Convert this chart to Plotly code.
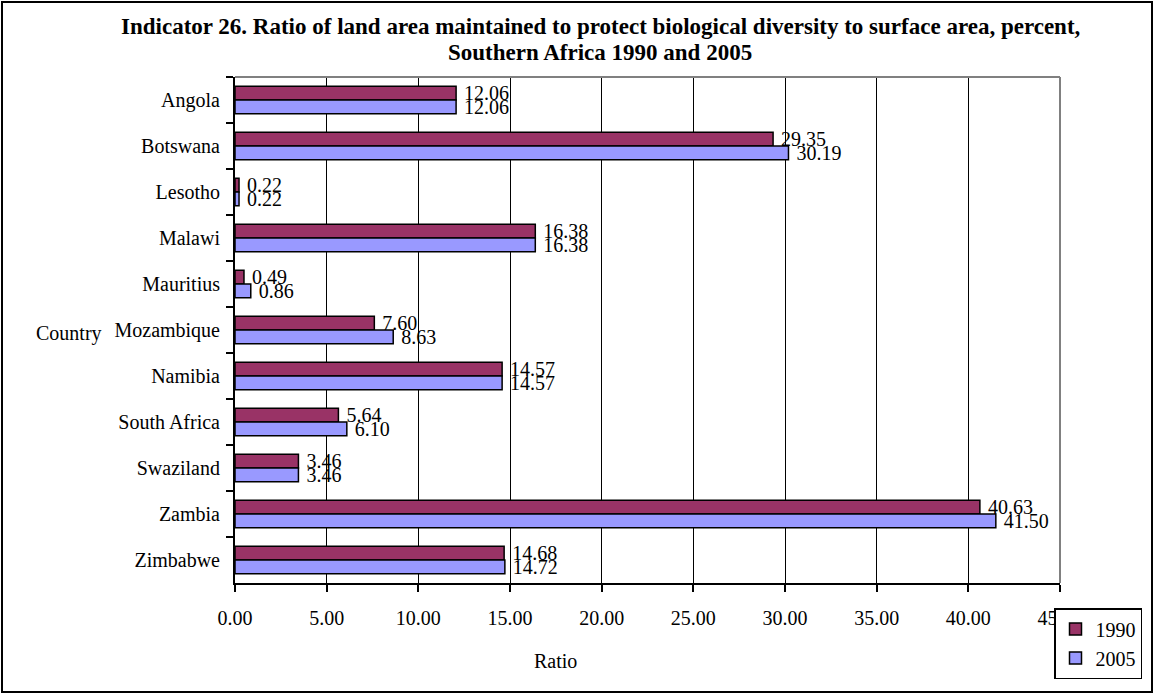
import plotly.graph_objects as go

countries = ["Angola", "Botswana", "Lesotho", "Malawi", "Mauritius", "Mozambique",
             "Namibia", "South Africa", "Swaziland", "Zambia", "Zimbabwe"]
values_1990 = [12.06, 29.35, 0.22, 16.38, 0.49, 7.60, 14.57, 5.64, 3.46, 40.63, 14.68]
values_2005 = [12.06, 30.19, 0.22, 16.38, 0.86, 8.63, 14.57, 6.10, 3.46, 41.50, 14.72]
x_ticks = [0, 5, 10, 15, 20, 25, 30, 35, 40, 45]
title_lines = [
    "Indicator 26. Ratio of land area maintained to protect biological diversity to surface area, percent,",
    "Southern Africa 1990 and 2005",
]

FONT = "Liberation Serif, Times New Roman, serif"
W, H = 1155, 694
L, R, T, B = 235, 95, 77, 111
pw, ph = W - L - R, H - T - B


def px_x(p):
    return (p - L) / pw


def px_y(p):
    return (H - B - p) / ph


fig = go.Figure()
for name, vals, color in [("1990", values_1990, "#993366"), ("2005", values_2005, "#9999FF")]:
    fig.add_trace(go.Bar(
        y=countries, x=vals, name=name, orientation="h",
        marker=dict(color=color, line=dict(color="black", width=1.5)),
        texttemplate=" %{x:.2f}", textposition="outside", constraintext="none",
        textfont=dict(family=FONT, size=20, color="black"),
        cliponaxis=False,
    ))

fig.update_layout(
    width=W, height=H,
    margin=dict(l=L, r=R, t=T, b=B, autoexpand=False),
    paper_bgcolor="white", plot_bgcolor="white",
    barmode="group", bargap=0.4, bargroupgap=0,
    font=dict(family=FONT, size=20, color="black"),
    showlegend=True,
    legend=dict(
        x=px_x(1054), y=px_y(608), xanchor="left", yanchor="top",
        bordercolor="black", borderwidth=1.5, bgcolor="white",
        font=dict(family=FONT, size=20, color="black"),
        traceorder="normal", itemwidth=30, tracegroupgap=0,
    ),
    xaxis=dict(
        range=[0, 45], tickvals=x_ticks, tickformat=".2f",
        showgrid=True, gridcolor="black", gridwidth=1,
        showline=True, linecolor="black", linewidth=2,
        ticks="outside", ticklen=7, tickcolor="black", tickwidth=2,
        ticklabelstandoff=9, zeroline=False,
    ),
    yaxis=dict(
        autorange="reversed", showgrid=False,
        showline=True, linecolor="black", linewidth=2,
        ticks="outside", ticklen=7, tickcolor="black", tickwidth=2,
        tickson="boundaries", ticklabelstandoff=9,
    ),
)

# two-line bold chart title
for line, ypx in zip(title_lines, [27, 52]):
    fig.add_annotation(
        text=f"<b>{line}</b>", xref="paper", yref="paper",
        x=px_x(600), y=px_y(ypx), xanchor="center", yanchor="middle",
        showarrow=False, font=dict(family=FONT, size=23, color="black"),
    )

# category axis title, placed horizontally to the left
fig.add_annotation(
    text="Country", xref="paper", yref="paper",
    x=px_x(34), y=px_y(333), xanchor="left", yanchor="middle",
    showarrow=False, font=dict(family=FONT, size=20, color="black"),
)

# value axis title
fig.add_annotation(
    text="Ratio", xref="paper", yref="paper",
    x=px_x(555), y=px_y(661), xanchor="center", yanchor="middle",
    showarrow=False, font=dict(family=FONT, size=20, color="black"),
)

# gray top and right frame of the plot area
fig.add_shape(type="line", xref="paper", yref="paper", x0=0, x1=1, y0=1, y1=1,
              line=dict(color="#808080", width=2))
fig.add_shape(type="line", xref="paper", yref="paper", x0=1, x1=1, y0=0, y1=1,
              line=dict(color="#808080", width=2))

# outer frame around the whole chart
fig.add_shape(type="rect", xref="paper", yref="paper",
              x0=px_x(2), x1=px_x(1152), y0=px_y(692), y1=px_y(2),
              line=dict(color="black", width=2))

fig.write_html("out.html")
